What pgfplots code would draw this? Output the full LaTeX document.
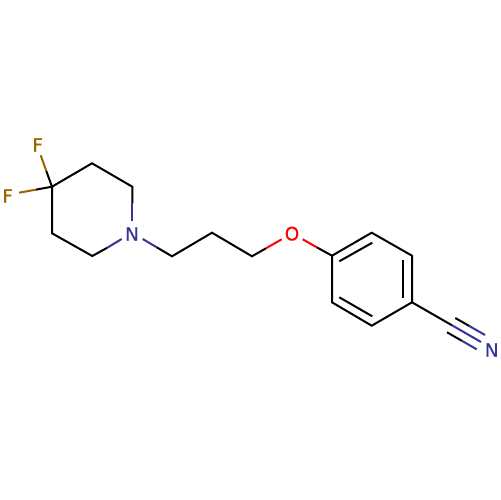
\documentclass[border=0pt]{standalone}
\usepackage{fontspec}
\setmainfont[FakeBold=0.25]{DejaVu Sans}
\usepackage{pgfplots}
\pgfplotsset{compat=1.18}
\definecolor{fcol}{RGB}{153,102,0}
\definecolor{ncol}{RGB}{51,51,153}
\definecolor{ocol}{RGB}{255,0,0}
\newcommand{\atom}[1]{\fontsize{18.5bp}{18.5bp}\selectfont #1}

\begin{document}
\begin{tikzpicture}
\begin{axis}[
    scale only axis,
    width=500bp, height=500bp,
    xmin=0, xmax=500, ymin=0, ymax=500,
    y dir=reverse,
    hide axis,
    clip=false,
    axis background/.style={fill=white},
    every axis plot/.append style={line width=2bp, line join=miter, line cap=butt, mark=none},
]
% invisible corners keep the page at the full canvas
\addplot[draw=none] coordinates {(0,0)(500,500)};

% carbon skeleton, piperidine
\addplot[black] coordinates {(132.3,203.3)(132.3,186.7)(92,163.3)(52,186.7)(52,233.3)(92.3,256)(107.3,247.7)};
\addplot[black] coordinates {(46.3,171)(52,186.7)(35.7,189.7)};
% chain
\addplot[black] coordinates {(156.7,247.3)(172,256.3)(212,232.7)(252,256.3)(266,248.3)};
\addplot[black] coordinates {(316.7,247.3)(332,255.7)};
% benzene ring
\addplot[black] coordinates {(332,255.7)(371.7,232.7)(412,255.7)(412,302.3)(371.7,325.7)(332,302.3)(332,255.7)};
\addplot[black] coordinates {(339.3,261.3)(372.3,242.7)};
\addplot[black] coordinates {(403.3,260)(403.3,298)};
\addplot[black] coordinates {(339.3,297.3)(372.3,316.3)};
% nitrile
\addplot[black] coordinates {(412,302.3)(452,325.3)};
\addplot[black] coordinates {(455.3,318)(469.3,326)};
\addplot[black] coordinates {(447,332.3)(461.7,340.7)};

% hetero atom half bonds
\addplot[fcol] coordinates {(46.3,171)(40.7,155.3)};
\addplot[fcol] coordinates {(35.7,189.7)(19,192.7)};
\addplot[ncol] coordinates {(132.3,203.3)(132.3,220.7)};
\addplot[ncol] coordinates {(107.3,247.7)(121.7,239)};
\addplot[ncol] coordinates {(142.7,239)(156.7,247.3)};
\addplot[ocol] coordinates {(266,248.3)(281.7,239.3)};
\addplot[ocol] coordinates {(302.7,239.3)(316.7,247.3)};
\addplot[ncol] coordinates {(452,325.3)(481,342)};
\addplot[ncol] coordinates {(469.3,326)(485,335)};
\addplot[ncol] coordinates {(461.7,340.7)(476.7,349.3)};

\node[text=fcol, inner sep=0pt] at (axis cs:37.7,145) {\atom{F}};
\node[text=fcol, inner sep=0pt] at (axis cs:7.7,196) {\atom{F}};
\node[text=ncol, inner sep=0pt] at (axis cs:132,234) {\atom{N}};
\node[text=ocol, inner sep=0pt] at (axis cs:292,233.7) {\atom{O}};
\node[text=ncol, inner sep=0pt] at (axis cs:491.7,350) {\atom{N}};
\end{axis}
\end{tikzpicture}
\end{document}
